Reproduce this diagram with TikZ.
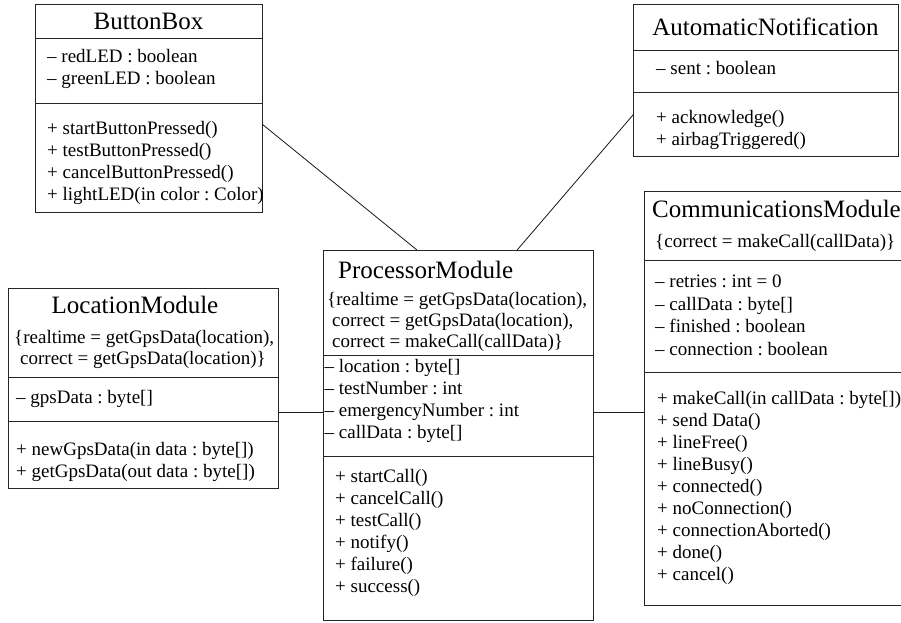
\documentclass[tikz,border=0pt]{standalone}
\usepackage{fontspec}
\setmainfont{Liberation Serif}
\usetikzlibrary{calc}
\frenchspacing
\tikzset{
  box/.style={draw=black!85, line width=0.9pt, anchor=north west, inner sep=0pt, outer sep=0pt},
  txt/.style={anchor=base west, inner sep=0pt, font=\fontsize{19}{22}\selectfont},
  ttl/.style={anchor=base, inner sep=0pt, font=\fontsize{25}{30}\selectfont},
  ttlw/.style={anchor=base west, inner sep=0pt, font=\fontsize{25}{30}\selectfont},
  divline/.style={draw=black!85, line width=0.9pt},
  link/.style={draw=black!90, line width=0.8pt},
}
\begin{document}
\begin{tikzpicture}[x=1pt,y=-1pt]
\clip (0,0) rectangle (901,622);
\fill[white] (0,0) rectangle (901,622);

% ButtonBox
\node[box, minimum width=227pt, minimum height=208pt] (bb) at (35,4) {};
\draw[divline] (bb.west |- 0,38) -- (bb.east |- 0,38);
\draw[divline] (bb.west |- 0,103) -- (bb.east |- 0,103);
\node[ttl] (bbt) at (148.5,29) {ButtonBox};
\node[txt] (bba1) at (47,62) {– redLED : boolean};
\node[txt] (bba2) at (47,84) {– greenLED : boolean};
\node[txt] (bbm1) at (47,134) {+ startButtonPressed()};
\node[txt] (bbm2) at (47,156) {+ testButtonPressed()};
\node[txt] (bbm3) at (47,178) {+ cancelButtonPressed()};
\node[txt] (bbm4) at (47,200) {+ lightLED(in color : Color)};

% AutomaticNotification
\node[box, minimum width=265pt, minimum height=152pt] (an) at (633,4) {};
\draw[divline] (an.west |- 0,50) -- (an.east |- 0,50);
\draw[divline] (an.west |- 0,92) -- (an.east |- 0,92);
\node[ttl] (ant) at (765.5,35) {AutomaticNotification};
\node[txt] (ana1) at (656,74) {– sent : boolean};
\node[txt] (anm1) at (656,123) {+ acknowledge()};
\node[txt] (anm2) at (656,145) {+ airbagTriggered()};

% CommunicationsModule
\node[box, minimum width=276pt, minimum height=414pt] (cm) at (644,191) {};
\draw[divline] (cm.west |- 0,260) -- (cm.east |- 0,260);
\draw[divline] (cm.west |- 0,372) -- (cm.east |- 0,372);
\node[ttlw] (cmt) at (652,217) {CommunicationsModule};
\node[txt] (cmc) at (655,247) {\{correct = makeCall(callData)\}};
\node[txt] (cma1) at (655,287) {– retries : int = 0};
\node[txt] (cma2) at (655,310) {– callData : byte[]};
\node[txt] (cma3) at (655,332) {– finished : boolean};
\node[txt] (cma4) at (655,355) {– connection : boolean};
\node[txt] (cmm1) at (657,404) {+ makeCall(in callData : byte[])};
\node[txt] (cmm2) at (657,426) {+ send Data()};
\node[txt] (cmm3) at (657,448) {+ lineFree()};
\node[txt] (cmm4) at (657,470) {+ lineBusy()};
\node[txt] (cmm5) at (657,492) {+ connected()};
\node[txt] (cmm6) at (657,514) {+ noConnection()};
\node[txt] (cmm7) at (657,536) {+ connectionAborted()};
\node[txt] (cmm8) at (657,558) {+ done()};
\node[txt] (cmm9) at (657,580) {+ cancel()};

% ProcessorModule
\node[box, minimum width=270pt, minimum height=370pt] (pm) at (323,250) {};
\draw[divline] (pm.west |- 0,355) -- (pm.east |- 0,355);
\draw[divline] (pm.west |- 0,456) -- (pm.east |- 0,456);
\node[ttlw] (pmt) at (338,278) {ProcessorModule};
\node[txt] (pmc1) at (327,305) {\{realtime = getGpsData(location),};
\node[txt] (pmc2) at (332,326) {correct = getGpsData(location),};
\node[txt] (pmc3) at (332,347) {correct = makeCall(callData)\}};
\node[txt] (pma1) at (324.5,372) {– location : byte[]};
\node[txt] (pma2) at (324.5,394) {– testNumber : int};
\node[txt] (pma3) at (324.5,416) {– emergencyNumber : int};
\node[txt] (pma4) at (324.5,438) {– callData : byte[]};
\node[txt] (pmm1) at (335,482) {+ startCall()};
\node[txt] (pmm2) at (335,504) {+ cancelCall()};
\node[txt] (pmm3) at (335,526) {+ testCall()};
\node[txt] (pmm4) at (335,548) {+ notify()};
\node[txt] (pmm5) at (335,570) {+ failure()};
\node[txt] (pmm6) at (335,592) {+ success()};

% LocationModule
\node[box, minimum width=270pt, minimum height=200pt] (lm) at (8,288) {};
\draw[divline] (lm.west |- 0,377) -- (lm.east |- 0,377);
\draw[divline] (lm.west |- 0,421) -- (lm.east |- 0,421);
\node[ttl] (lmt) at (135,313) {LocationModule};
\node[txt] (lmc1) at (14,343) {\{realtime = getGpsData(location),};
\node[txt] (lmc2) at (20,364) {correct = getGpsData(location)\}};
\node[txt] (lma1) at (16,403) {– gpsData : byte[]};
\node[txt] (lmm1) at (16,455) {+ newGpsData(in data : byte[])};
\node[txt] (lmm2) at (16,477) {+ getGpsData(out data : byte[])};

% connectors
\coordinate (lvl) at (0,412);
\draw[link] ($(bb.north east)!0.577!(bb.south east)$) -- ($(pm.north west)!0.348!(pm.north east)$);
\draw[link] ($(an.north west)!0.730!(an.south west)$) -- ($(pm.north west)!0.719!(pm.north east)$);
\draw[link] (lm.east |- lvl) -- (pm.west |- lvl);
\draw[link] (pm.east |- lvl) -- (cm.west |- lvl);
\end{tikzpicture}
\end{document}
